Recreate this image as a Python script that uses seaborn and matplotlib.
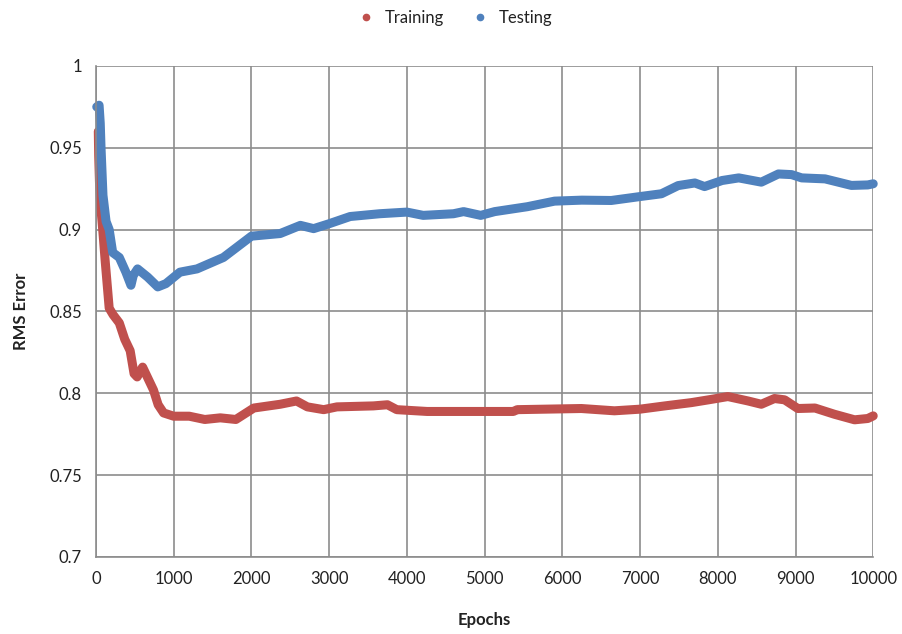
import matplotlib
matplotlib.use("Agg")
import matplotlib.pyplot as plt
import seaborn as sns
import pandas as pd
from matplotlib.lines import Line2D

train_epochs = [30, 35, 45, 60, 85, 120, 170, 220, 300, 370, 440, 490, 530, 600, 660, 740,
                800, 870, 1000, 1200, 1400, 1600, 1800, 2030, 2370, 2580, 2720, 2930, 3100,
                3570, 3750, 3870, 4260, 5370, 5420, 6245, 6670, 7000, 7320, 7660, 7880, 8130,
                8390, 8560, 8730, 8860, 9030, 9250, 9500, 9760, 9930, 10000]
train_rms = [0.960, 0.945, 0.929, 0.915, 0.901, 0.880, 0.852, 0.848, 0.843, 0.833, 0.826,
             0.812, 0.810, 0.816, 0.810, 0.802, 0.793, 0.788, 0.786, 0.786, 0.784, 0.785,
             0.784, 0.791, 0.7933, 0.7953, 0.7917, 0.790, 0.7917, 0.7923, 0.793, 0.790,
             0.7889, 0.7889, 0.790, 0.7907, 0.7893, 0.7903, 0.7923, 0.7943, 0.796, 0.798,
             0.7953, 0.7933, 0.7968, 0.796, 0.7907, 0.791, 0.7872, 0.7838, 0.7846, 0.7862]

test_epochs = [10, 40, 55, 65, 90, 130, 170, 215, 300, 385, 450, 480, 535, 665, 795, 900,
               1080, 1300, 1640, 2000, 2370, 2630, 2800, 3000, 3270, 3650, 4000, 4210, 4600,
               4730, 4950, 5130, 5550, 5900, 6250, 6630, 7000, 7275, 7490, 7705, 7830, 8055,
               8270, 8560, 8780, 8950, 9080, 9380, 9720, 9930, 10000]
test_rms = [0.975, 0.976, 0.965, 0.950, 0.921, 0.905, 0.900, 0.886, 0.883, 0.874, 0.866,
            0.872, 0.876, 0.871, 0.865, 0.867, 0.874, 0.876, 0.883, 0.896, 0.8976, 0.9026,
            0.9006, 0.9036, 0.908, 0.9097, 0.9107, 0.9087, 0.9097, 0.911, 0.9087, 0.911,
            0.914, 0.9174, 0.918, 0.9178, 0.9202, 0.9219, 0.9269, 0.9285, 0.9263, 0.930,
            0.9316, 0.929, 0.934, 0.9336, 0.9316, 0.931, 0.927, 0.9273, 0.928]

series_names = ["Training", "Testing"]
series_colors = ["#C0504D", "#4F81BD"]
x_ticks = [0, 1000, 2000, 3000, 4000, 5000, 6000, 7000, 8000, 9000, 10000]
y_ticks = [0.7, 0.75, 0.8, 0.85, 0.9, 0.95, 1.0]
y_tick_labels = ["0.7", "0.75", "0.8", "0.85", "0.9", "0.95", "1"]

df = pd.concat([
    pd.DataFrame({"Epochs": train_epochs, "RMS Error": train_rms, "Series": "Training"}),
    pd.DataFrame({"Epochs": test_epochs, "RMS Error": test_rms, "Series": "Testing"}),
], ignore_index=True)

sns.set_style("white")
plt.rcParams["font.family"] = ["Lato", "DejaVu Sans"]

fig = plt.figure(figsize=(9.02, 6.34), dpi=100)
ax = fig.add_axes([0.1064, 0.1215, 0.8617, 0.7745])

sns.lineplot(data=df, x="Epochs", y="RMS Error", hue="Series", hue_order=series_names,
             palette=series_colors, linewidth=6.5, sort=False, legend=False, ax=ax,
             solid_capstyle="round", solid_joinstyle="round")
for ln in ax.lines:
    ln.set_clip_on(False)

ax.set_xlim(0, 10000)
ax.set_ylim(0.7, 1.0)
ax.set_xticks(x_ticks)
ax.set_xticklabels([str(t) for t in x_ticks])
ax.set_yticks(y_ticks)
ax.set_yticklabels(y_tick_labels)
ax.grid(True, color="#8C8C8C", linewidth=1.2)
ax.set_axisbelow(True)
for side in ["top", "right"]:
    ax.spines[side].set_visible(False)
for side in ["left", "bottom"]:
    ax.spines[side].set_color("#8C8C8C")
    ax.spines[side].set_linewidth(1.2)
ax.tick_params(axis="both", which="major", length=5, width=1.2, color="#8C8C8C",
               labelsize=12, labelcolor="#222222", pad=5)
ax.set_xlabel("Epochs", fontsize=12, fontweight="bold", color="#222222", labelpad=18)
ax.set_ylabel("RMS Error", fontsize=12, fontweight="bold", color="#222222", labelpad=15)

handles = [Line2D([], [], linestyle="none", marker="o", markersize=4.5, color=c) for c in series_colors]
fig.legend(handles, series_names, loc="center", bbox_to_anchor=(0.5, 0.972), ncol=2,
           frameon=False, fontsize=12, handletextpad=0.1, columnspacing=1.2,
           labelcolor="#222222")

fig.savefig("out.png", dpi=100)
